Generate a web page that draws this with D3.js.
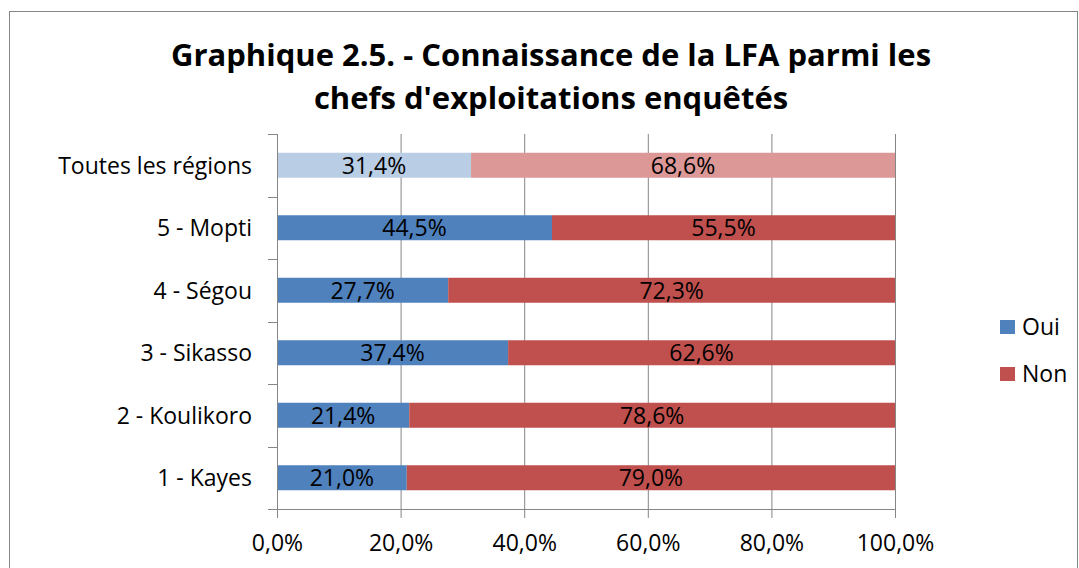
<!DOCTYPE html>
<html><head><meta charset="utf-8">
<script src="https://cdn.jsdelivr.net/npm/d3@7"></script>
<style>body{margin:0;background:#fff;}svg{display:block;font-family:"Open Sans",Lato,sans-serif;}</style>
</head><body>
<svg id="c" width="1079" height="568"></svg>
<script>
const categories = ["Toutes les régions","5 - Mopti","4 - Ségou","3 - Sikasso","2 - Koulikoro","1 - Kayes"];
const oui = [31.4, 44.5, 27.7, 37.4, 21.4, 21.0];
const non = [68.6, 55.5, 72.3, 62.6, 78.6, 79.0];
const seriesNames = ["Oui","Non"];
const xTicks = [0,20,40,60,80,100];
const titleLines = ["Graphique 2.5. - Connaissance de la LFA parmi les","chefs d'exploitations enquêtés"];

const svg = d3.select("#c");
const colors = {Oui:"#4F81BD", Non:"#C0504D"};
const lightColors = {Oui:"#B9CDE5", Non:"#DC9896"};
const fmt = v => v.toFixed(1).replace(".", ",") + "%";
const FS = 23;

svg.append("rect").attr("x",9.5).attr("y",11.5).attr("width",1068).attr("height",570)
  .attr("fill","none").attr("stroke","#868686").attr("stroke-width",1);

const L=277, R=895, T=134, B=509;
const x = d3.scaleLinear().domain([0,100]).range([L,R]);
const y = d3.scaleBand().domain(categories).range([T,B]).paddingInner(0.6).paddingOuter(0.3);

svg.append("text").attr("x",551).attr("y",66).attr("text-anchor","middle")
  .attr("font-size",31).attr("font-weight","bold").attr("fill","#000")
  .selectAll("tspan").data(titleLines).join("tspan")
  .attr("x",551).attr("dy",(d,i)=>i===0?0:43).text(d=>d);

svg.append("g").selectAll("line").data(xTicks.filter(t=>t>0)).join("line")
  .attr("x1",d=>x(d)+0.5).attr("x2",d=>x(d)+0.5).attr("y1",T).attr("y2",B)
  .attr("stroke","#868686").attr("stroke-width",1);

const rows = categories.map((c,i)=>({cat:c, Oui:oui[i], Non:non[i], light:i===0}));
const stack = d3.stack().keys(seriesNames)(rows);
const g = svg.append("g");
stack.forEach(layer=>{
  layer.forEach(seg=>{
    const d = seg.data;
    g.append("rect").attr("x",x(seg[0])).attr("width",x(seg[1])-x(seg[0]))
      .attr("y",y(d.cat)).attr("height",y.bandwidth())
      .attr("fill", d.light ? lightColors[layer.key] : colors[layer.key]);
    g.append("text").attr("x",(x(seg[0])+x(seg[1]))/2).attr("y",y(d.cat)+y.bandwidth()/2)
      .attr("dy","0.36em").attr("text-anchor","middle").attr("font-size",FS).attr("fill","#000")
      .text(fmt(d[layer.key]));
  });
});

const xa = svg.append("g").attr("transform",`translate(0,${B})`)
  .call(d3.axisBottom(x).tickValues(xTicks).tickFormat(fmt).tickSizeInner(9).tickSizeOuter(0));
xa.select(".domain").attr("stroke","#868686");
xa.selectAll(".tick line").attr("stroke","#868686");
xa.selectAll(".tick text").attr("font-size",FS).attr("font-family","Open Sans").attr("fill","#000").attr("dy","1.3em");

const yTickPos = d3.range(categories.length+1).map(i=>T+(B-T)*i/categories.length);
svg.append("line").attr("x1",L+0.5).attr("x2",L+0.5).attr("y1",T).attr("y2",B).attr("stroke","#868686");
svg.append("g").selectAll("line").data(yTickPos).join("line")
  .attr("x1",L-9).attr("x2",L).attr("y1",d=>Math.round(d)+0.5).attr("y2",d=>Math.round(d)+0.5)
  .attr("stroke","#868686");
svg.append("g").selectAll("text").data(categories).join("text")
  .attr("x",252).attr("y",d=>y(d)+y.bandwidth()/2).attr("dy","0.36em")
  .attr("text-anchor","end").attr("font-size",FS).attr("fill","#000").text(d=>d);

const lg = svg.append("g");
seriesNames.forEach((s,i)=>{
  lg.append("rect").attr("x",1000).attr("y",320+i*47).attr("width",15).attr("height",14).attr("fill",colors[s]);
  lg.append("text").attr("x",1022).attr("y",327+i*47).attr("dy","0.36em").attr("font-size",FS).attr("fill","#000").text(s);
});
</script>
</body></html>
